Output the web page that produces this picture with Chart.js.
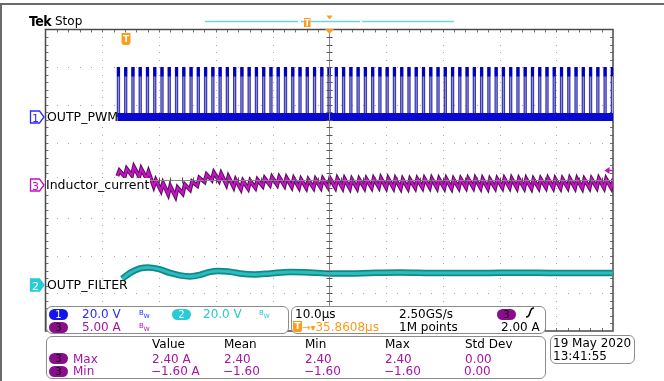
<!DOCTYPE html>
<html><head><meta charset="utf-8">
<script src="https://cdn.jsdelivr.net/npm/chart.js@4/dist/chart.umd.min.js"></script>
<style>
html,body{margin:0;padding:0;background:#fff;}
#wrap{position:relative;width:664px;height:381px;overflow:hidden;font-family:"DejaVu Sans",sans-serif;background:#fff;}
#c{position:absolute;left:0;top:0;}
#ov{position:absolute;left:0;top:0;}
.abs{position:absolute;white-space:nowrap;line-height:12px;font-size:12px;}
.box{position:absolute;border:1.5px solid #8c8c8c;border-radius:6px;background:#fff;box-sizing:border-box;}
.badge{position:absolute;width:19px;height:11px;border-radius:6px;font-size:10px;line-height:11px;text-align:center;font-family:"DejaVu Sans",sans-serif;}
.lbl{position:absolute;white-space:nowrap;font-size:12.5px;line-height:13px;color:#000;}
</style></head>
<body>
<div id="wrap">
<canvas id="c" width="664" height="381"></canvas>
<svg id="ov" width="664" height="381" xmlns="http://www.w3.org/2000/svg">
  <line x1="0" y1="4" x2="664" y2="4" stroke="#6a6a6a" stroke-width="2"/>
  <line x1="1" y1="4" x2="1" y2="381" stroke="#6a6a6a" stroke-width="2"/>
  <line x1="205" y1="21.5" x2="298" y2="21.5" stroke="#6fd6d6" stroke-width="1.5"/>
  <line x1="301" y1="21.5" x2="360" y2="21.5" stroke="#6fd6d6" stroke-width="1.5"/>
  <line x1="362" y1="21.5" x2="454" y2="21.5" stroke="#6fd6d6" stroke-width="1.5"/>
  <rect x="304" y="18" width="6.5" height="9" fill="#ff9a1a"/>
  <text x="307.3" y="25.5" font-size="8" fill="#fff" text-anchor="middle" font-family="DejaVu Sans" font-weight="bold">T</text>
  <polygon points="326.5,15.5 332.5,15.5 329.5,19.5" fill="#ff9a1a"/>
  <polygon points="325,29 334,29 329.5,34" fill="#ff9a1a"/>
  <path d="M121.5,33 H130.5 V42 Q130.5,45 127.5,45 H124.5 Q121.5,45 121.5,42 Z" fill="#ff9a1a"/>
  <text x="126" y="42" font-size="9" fill="#fff" text-anchor="middle" font-family="DejaVu Sans" font-weight="bold">T</text>
  <polygon points="604.5,170.5 609.5,167 609.5,174" fill="#c010c0"/>
  <line x1="609" y1="170.5" x2="613" y2="170.5" stroke="#c010c0" stroke-width="1.5"/>
  <polygon points="30.5,111 39.5,111 44,117 39.5,123 30.5,123" fill="#fff" stroke="#2a2aff" stroke-width="1.3"/>
  <text x="35.5" y="121.5" font-size="11" fill="#2a2aff" text-anchor="middle" font-family="DejaVu Sans">1</text>
  <polygon points="30.5,179 39.5,179 44,185 39.5,191 30.5,191" fill="#fff" stroke="#c010c0" stroke-width="1.3"/>
  <text x="35.5" y="189.5" font-size="11" fill="#c010c0" text-anchor="middle" font-family="DejaVu Sans">3</text>
  <polygon points="30.5,279 39.5,279 44,285 39.5,291 30.5,291" fill="#28ccd6" stroke="#28ccd6" stroke-width="1.3"/>
  <text x="35.5" y="289.5" font-size="11" fill="#fff" text-anchor="middle" font-family="DejaVu Sans">2</text>
</svg>

<div class="abs" style="left:29px;top:14px;font-family:'DejaVu Sans Condensed','DejaVu Sans',sans-serif;font-weight:bold;font-size:14px;line-height:14px;color:#000;letter-spacing:-0.5px;">Tek</div>
<div class="abs" style="left:55px;top:15px;color:#000;">Stop</div>

<div class="lbl" style="left:47px;top:110px;">OUTP_PWM</div>
<div class="lbl" style="left:46px;top:178px;background:#fff;padding-right:1px;">Inductor_current</div>
<div class="lbl" style="left:47px;top:278px;">OUTP_FILTER</div>

<div class="box" style="left:45.5px;top:306px;width:243px;height:28px;"></div>
<div class="box" style="left:290.5px;top:306px;width:255px;height:28px;"></div>
<div class="box" style="left:45.5px;top:335.5px;width:500px;height:43.5px;"></div>
<div class="box" style="left:549.5px;top:335px;width:85px;height:29px;"></div>
<div id="txt"></div>
</div>

<script>
// ---------------- data ----------------
// Time in µs relative to screen centre (10 µs/div), trigger at -35.8608 µs
const timeRange = [-50, 50];
// CH1 OUTP_PWM: rising-edge times of each switching pulse (µs), levels (V), on-time (µs)
const pwmRise = [-37.33,-36.05,-34.77,-33.49,-32.21,-30.93,-29.65,-28.37,-27.09,-25.81,
  -24.53,-23.25,-21.97,-20.69,-19.41,-18.13,-16.85,-15.57,-14.29,-13.01,
  -11.73,-10.45,-9.17,-7.89,-6.61,-5.33,-4.05,-2.77,-1.49,-0.21,
  1.07,2.35,3.63,4.91,6.19,7.47,8.75,10.03,11.31,12.59,
  13.87,15.15,16.43,17.71,18.99,20.27,21.55,22.83,24.11,25.39,
  26.67,27.95,29.23,30.51,31.79,33.07,34.35,35.63,36.91,38.19,
  39.47,40.75,42.03,43.31,44.59,45.87,47.15,48.43,49.71];
const pwmLevels = [0, 26];
const pwmOnTime = [0.36];
// CH3 Inductor_current (A): valley at each rising edge, peak at end of on-time
const iValley = [1.20,1.10,1.25,1.10,0.85,-0.20,-0.75,-1.25,-1.55,-1.15,
  -0.65,-0.10,0.40,0.65,0.55,0.05,-0.30,-0.55,-0.50,-0.40,
  -0.15,0.00,0.00,-0.10,-0.25,-0.35,-0.40,-0.40,-0.35,-0.30,
  -0.35,-0.40,-0.45,-0.45,-0.40,-0.35,-0.30,-0.35,-0.40,-0.45,
  -0.45,-0.40,-0.35,-0.35,-0.40,-0.40,-0.45,-0.40,-0.35,-0.35,
  -0.40,-0.45,-0.40,-0.35,-0.35,-0.40,-0.40,-0.45,-0.40,-0.35,
  -0.40,-0.40,-0.35,-0.40,-0.45,-0.40,-0.35,-0.40,-0.40];
const iPeak = [1.90,2.15,2.40,2.15,1.75,0.65,0.25,-0.15,-0.35,0.05,
  0.45,0.95,1.40,1.65,1.50,1.10,0.70,0.55,0.55,0.70,
  0.90,1.05,1.05,0.95,0.85,0.75,0.70,0.75,0.80,0.85,
  0.85,0.80,0.75,0.75,0.80,0.85,0.90,0.85,0.80,0.75,
  0.75,0.80,0.85,0.85,0.80,0.80,0.75,0.80,0.85,0.85,
  0.80,0.75,0.80,0.85,0.85,0.80,0.80,0.75,0.80,0.85,
  0.80,0.80,0.85,0.80,0.75,0.80,0.85,0.80,0.80];
// CH2 OUTP_FILTER (V)
const filterTime = [-36.50,-35.09,-33.33,-31.92,-30.16,-28.05,-26.29,-24.53,-22.77,-21.00,
  -19.60,-17.84,-15.73,-13.09,-10.44,-6.92,-3.40,0.12,3.65,7.17,
  12.45,17.73,23.01,28.29,33.58,38.86,44.14,49.95];
const filterVolts = [3.18,6.37,8.75,9.28,8.49,6.37,5.04,4.51,5.31,6.90,
  7.43,7.16,6.10,5.57,6.10,6.90,6.63,6.10,6.10,6.37,
  6.63,6.37,6.26,6.37,6.47,6.37,6.37,6.37];
// readout texts
const chScales = ['20.0 V', '20.0 V', '5.00 A'];
const horizInfo = ['10.0µs', '2.50GS/s', '35.8608µs', '1M points', '2.00 A'];
const measHeaders = ['Value', 'Mean', 'Min', 'Max', 'Std Dev'];
const measRowNames = ['Max', 'Min'];
const measMax = ['2.40 A', '2.40', '2.40', '2.40', '0.00'];
const measMin = ['\u22121.60 A', '\u22121.60', '\u22121.60', '\u22121.60', '0.00'];
const dateStamp = ['19 May 2020', '13:41:55'];

// ---------------- build datasets ----------------
const w = pwmOnTime[0];
const pulses = [], tops = [];
pwmRise.forEach(t => {
  pulses.push({x:t,y:pwmLevels[0]},{x:t,y:pwmLevels[1]},{x:t+w,y:pwmLevels[1]},{x:t+w,y:pwmLevels[0]});
  tops.push({x:t+w/2,y:pwmLevels[1]+0.5},{x:t+w/2,y:pwmLevels[1]-4.5},{x:t+w/2,y:null});
});
const baseline = [{x:pwmRise[0],y:pwmLevels[0]},{x:timeRange[1],y:pwmLevels[0]}];
const current = [];
const n = Math.min(pwmRise.length, iValley.length, iPeak.length);
for (let k=0;k<n;k++){ current.push({x:pwmRise[k],y:iValley[k]},{x:pwmRise[k]+w,y:iPeak[k]}); }
const filt = filterTime.map((t,i)=>({x:t,y:filterVolts[i]}));

// ---------------- graticule plugin ----------------
function drawCenter(chart){
  const {ctx, chartArea:a} = chart; const xs = chart.scales.x, yd = chart.scales.yDiv;
  const cx = Math.round(xs.getPixelForValue(0))+0.5, cy = Math.round(yd.getPixelForValue(0))+0.5;
  ctx.save(); ctx.strokeStyle='#8a8a8a'; ctx.lineWidth=1;
  ctx.beginPath(); ctx.moveTo(cx,a.top); ctx.lineTo(cx,a.bottom); ctx.moveTo(a.left,cy); ctx.lineTo(a.right,cy); ctx.stroke();
  ctx.strokeStyle='#555'; ctx.beginPath();
  for(let j=1;j<40;j++){ const y=Math.round(yd.getPixelForValue(-4+j*0.2))+0.5; ctx.moveTo(cx-3,y); ctx.lineTo(cx+3,y); }
  for(let i=1;i<50;i++){ const x=Math.round(xs.getPixelForValue(-50+i*2))+0.5; ctx.moveTo(x,cy-3); ctx.lineTo(x,cy+3); }
  ctx.stroke(); ctx.restore();
}
const tekGrid = {
  id:'tekGrid',
  beforeDatasetsDraw(chart){
    const {ctx, chartArea:a} = chart; const xs = chart.scales.x, yd = chart.scales.yDiv;
    ctx.save(); ctx.fillStyle='#a8a8a8';
    for(let i=1;i<10;i++){ if(i===5) continue; const x=Math.round(xs.getPixelForValue(-50+i*10));
      for(let j=1;j<40;j++){ ctx.fillRect(x, Math.round(yd.getPixelForValue(-4+j*0.2)), 1, 1); } }
    for(let j=1;j<8;j++){ if(j===4) continue; const y=Math.round(yd.getPixelForValue(-4+j));
      for(let i=1;i<50;i++){ ctx.fillRect(Math.round(xs.getPixelForValue(-50+i*2)), y, 1, 1); } }
    ctx.strokeStyle='#707070'; ctx.lineWidth=1; ctx.beginPath();
    for(let i=1;i<50;i++){ const x=Math.round(xs.getPixelForValue(-50+i*2))+0.5; ctx.moveTo(x,a.top); ctx.lineTo(x,a.top+3); ctx.moveTo(x,a.bottom); ctx.lineTo(x,a.bottom-3); }
    for(let j=1;j<40;j++){ const y=Math.round(yd.getPixelForValue(-4+j*0.2))+0.5; ctx.moveTo(a.left,y); ctx.lineTo(a.left+3,y); ctx.moveTo(a.right,y); ctx.lineTo(a.right-3,y); }
    ctx.stroke();
    ctx.strokeStyle='#4a4a4a'; ctx.lineWidth=1.5;
    ctx.strokeRect(a.left, a.top, a.right-a.left, a.bottom-a.top);
    ctx.restore();
  },
  afterDatasetsDraw(chart){ drawCenter(chart); }
};

// channel axes: V or A per division with ground position on screen
function chAxis(perDiv, groundDivFromTop){ return {type:'linear', display:false, max: groundDivFromTop*perDiv, min: (groundDivFromTop-8)*perDiv}; }

new Chart(document.getElementById('c'), {
  type:'line',
  data:{ datasets:[
    {data:tops, yAxisID:'y1', borderColor:'#0000c0', borderWidth:3, spanGaps:false, order:1},
    {data:pulses, yAxisID:'y1', borderColor:'#3c3cb4', borderWidth:1.3, fill:{target:'origin'}, backgroundColor:'#a8a8e0', order:3},
    {data:baseline, yAxisID:'y1', borderColor:'#0808d0', borderWidth:8, order:2},
    {data:current, yAxisID:'y3', borderColor:'#c814c8', borderWidth:2, order:4},
    {data:current, yAxisID:'y3', borderColor:'#5e0a5e', borderWidth:4, order:5},
    {data:filt, yAxisID:'y2', borderColor:'#2cbcbe', borderWidth:3, cubicInterpolationMode:'monotone', order:6},
    {data:filt, yAxisID:'y2', borderColor:'#0e8a8c', borderWidth:6.5, cubicInterpolationMode:'monotone', order:7}
  ]},
  options:{
    responsive:false, animation:false, devicePixelRatio:1,
    layout:{padding:{left:45.5, top:29.5, right:51, bottom:50}},
    elements:{point:{radius:0}, line:{tension:0, fill:false}},
    plugins:{legend:{display:false}, tooltip:{enabled:false}, filler:{propagate:false}},
    scales:{
      x:{type:'linear', display:false, min:timeRange[0], max:timeRange[1]},
      yDiv:{type:'linear', display:false, min:-4, max:4},
      y1:chAxis(20, 2.321),
      y2:chAxis(20, 6.777),
      y3:chAxis(5, 4.125)
    }
  },
  plugins:[tekGrid]
});

// ---------------- readout texts ----------------
const T = document.getElementById('txt');
function put(html, l, t, style){ const d=document.createElement('div'); d.className='abs'; d.style.left=l+'px'; d.style.top=t+'px'; if(style) d.style.cssText+=style; d.innerHTML=html; T.appendChild(d); return d; }
function badge(num, l, t, bg, fg){ const d=document.createElement('div'); d.className='badge'; d.style.left=l+'px'; d.style.top=t+'px'; d.style.background=bg; d.style.color=fg; d.textContent=num; T.appendChild(d); }
function bw(l,t,col){ put('B<span style="position:relative;top:3px;font-size:6px">W</span>', l, t, 'font-size:7px;line-height:7px;color:'+col); }
const C1='#2a2aff', C2='#26c8d2', C3='#a514a5', OR='#ff9a1a';
badge('1',49,308.5,'#1414f0','#fff'); put(chScales[0],82,307.5,'color:'+C1); bw(139,309,C1);
badge('2',172,308.5,'#28ccd6','#fff'); put(chScales[1],203,307.5,'color:'+C2); bw(259,309,C2);
badge('3',49,321.5,'#8a0e8a','#1a001a'); put(chScales[2],82,320.5,'color:'+C3); bw(139,322,C3);
put(horizInfo[0],295,307.5,'color:#000'); put(horizInfo[1],399,307.5,'color:#000');
badge('3',497,308.5,'#8a0e8a','#1a001a');
put('<svg width="10" height="11" style="position:absolute;left:0;top:0"><path d="M1,10 Q4,10 5,5.5 Q6,1 9,1" stroke="#000" stroke-width="1.6" fill="none"/></svg>',525,307,'width:10px;height:11px');
put('<span style="display:inline-block;width:9px;height:11px;background:'+OR+';color:#fff;font-size:9px;line-height:11px;text-align:center;font-weight:bold;vertical-align:top;border-radius:0 0 2px 2px">T</span><span style="font-size:10px">→▾</span>'+horizInfo[2],293,320.5,'color:'+OR);
put(horizInfo[3],399,320.5,'color:#000'); put(horizInfo[4],501,320.5,'color:#000');
const colX = [152, 224, 305, 385, 465];
measHeaders.forEach((h,i)=>put(h,colX[i],337.5,'color:#000'));
badge('3',49,353,'#8a0e8a','#1a001a'); put(measRowNames[0],73,352.5,'color:'+C3);
badge('3',49,365.5,'#8a0e8a','#1a001a'); put(measRowNames[1],73,365,'color:'+C3);
measMax.forEach((v,i)=>put(v,colX[i],352.5,'color:'+C3));
measMin.forEach((v,i)=>put(v,colX[i]-1,365,'color:'+C3));
put(dateStamp[0],553,337,'color:#000'); put(dateStamp[1],553,350,'color:#000');
</script>
</body></html>
